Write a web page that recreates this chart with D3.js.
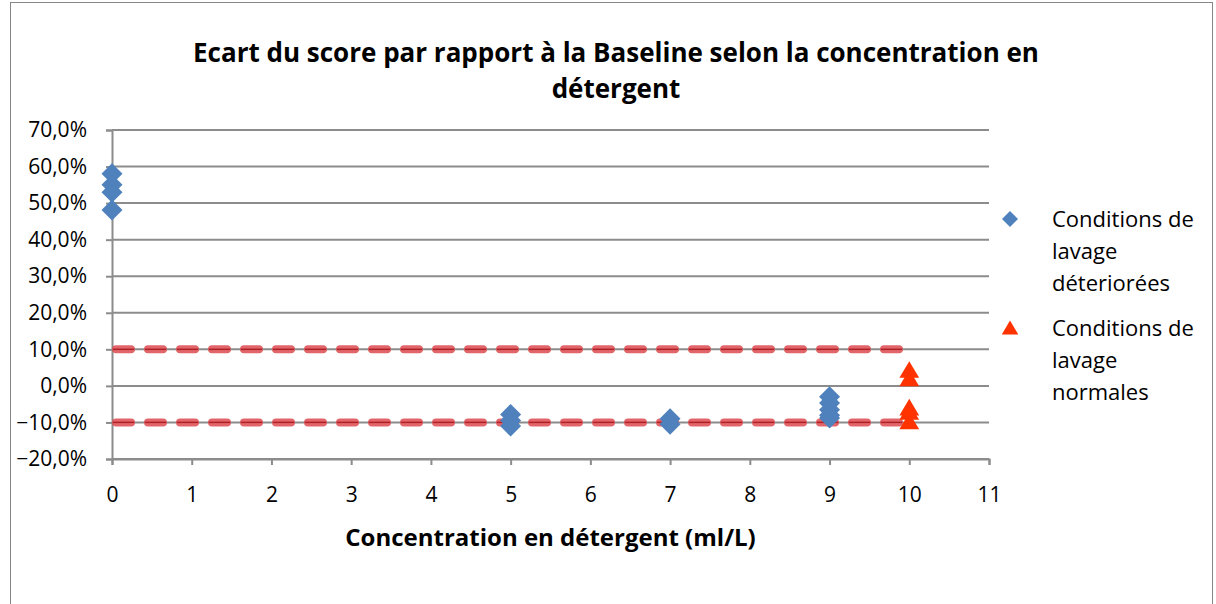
<!DOCTYPE html>
<html>
<head>
<meta charset="utf-8">
<script src="https://cdn.jsdelivr.net/npm/d3@7"></script>
<style>
  body { margin: 0; background: #fff; }
  svg text { font-family: "Open Sans", sans-serif; fill: #000; }
</style>
</head>
<body>
<script>
// chart data
let titleLines = ["Ecart du score par rapport à la Baseline selon la concentration en", "détergent"];
let xTitle = "Concentration en détergent (ml/L)";
let xTicks = [0, 1, 2, 3, 4, 5, 6, 7, 8, 9, 10, 11];
let yTicks = [-0.2, -0.1, 0, 0.1, 0.2, 0.3, 0.4, 0.5, 0.6, 0.7];

// "Conditions de lavage déteriorées"
let degradedX = [0, 0, 0, 0, 5, 5, 5, 7, 7, 9, 9, 9, 9, 9];
let degradedY = [0.58, 0.55, 0.53, 0.481, -0.078, -0.095, -0.11, -0.09, -0.105, -0.03, -0.047, -0.065, -0.08, -0.088];

// "Conditions de lavage normales"
let normalX = [10, 10, 10, 10, 10];
let normalY = [0.043, 0.02, -0.06, -0.072, -0.098];

// thresholds at +/-10 %
let limitX = [0, 10];
let upperLimit = [0.1, 0.1];
let lowerLimit = [-0.1, -0.1];

let legendLabels = [["Conditions de", "lavage", "déteriorées"],
                    ["Conditions de", "lavage", "normales"]];

window.onload = function() {
    main();
};

function main() {
    let w = 1216, h = 604;
    let plot = {left: 112, right: 989, top: 130, bottom: 459};

    let svg = d3.select("body")
                .append("svg")
                .attr("width", w)
                .attr("height", h);

    // chart frame
    svg.append("rect")
       .attr("x", 10.5).attr("y", 2.5)
       .attr("width", 1202).attr("height", 640)
       .attr("fill", "none")
       .attr("stroke", "#868686")
       .attr("stroke-width", 1);

    let x = d3.scaleLinear().domain([0, 11]).range([plot.left, plot.right]);
    let y = d3.scaleLinear().domain([-0.2, 0.7]).range([plot.bottom, plot.top]);

    // title
    svg.append("text")
       .attr("x", 616)
       .attr("y", 62)
       .attr("text-anchor", "middle")
       .style("font-weight", "bold")
       .style("font-size", "26px")
       .selectAll("tspan")
       .data(titleLines)
       .enter()
       .append("tspan")
       .attr("x", 616)
       .attr("dy", function(d, i) { return i === 0 ? 0 : 36; })
       .text(function(d) { return d; });

    // horizontal gridlines
    svg.append("g")
       .selectAll("line")
       .data(yTicks)
       .enter()
       .append("line")
       .attr("x1", plot.left)
       .attr("x2", plot.right)
       .attr("y1", function(d) { return y(d); })
       .attr("y2", function(d) { return y(d); })
       .attr("stroke", "#8c8c8c")
       .attr("stroke-width", 2);

    // y axis
    let fmt = function(d) { return d3.format(".1f")(d * 100).replace(".", ",") + "%"; };
    let yAxis = svg.append("g")
       .attr("transform", "translate(" + plot.left + ",0)")
       .call(d3.axisLeft(y).tickValues(yTicks).tickFormat(fmt).tickSize(6).tickPadding(19));
    yAxis.select(".domain").attr("stroke", "#8c8c8c").attr("stroke-width", 2);
    yAxis.selectAll(".tick line").attr("stroke", "#8c8c8c").attr("stroke-width", 2);
    yAxis.selectAll(".tick text")
         .style("font-size", "21px")
         .style("font-family", "'Open Sans', sans-serif")
         .attr("fill", "#000");

    // x axis
    let xAxis = svg.append("g")
       .attr("transform", "translate(0," + plot.bottom + ")")
       .call(d3.axisBottom(x).tickValues(xTicks).tickSize(6).tickPadding(22));
    xAxis.select(".domain").attr("stroke", "#8c8c8c").attr("stroke-width", 2);
    xAxis.selectAll(".tick line").attr("stroke", "#8c8c8c").attr("stroke-width", 2);
    xAxis.selectAll(".tick text")
         .style("font-size", "21px")
         .style("font-family", "'Open Sans', sans-serif")
         .attr("fill", "#000");

    // x axis title
    svg.append("text")
       .attr("x", x(5.5))
       .attr("y", 546)
       .attr("text-anchor", "middle")
       .style("font-weight", "bold")
       .style("font-size", "24px")
       .text(xTitle);

    // threshold lines
    let line = d3.line()
                 .x(function(d) { return x(d[0]); })
                 .y(function(d) { return y(d[1]); });
    [upperLimit, lowerLimit].forEach(function(vals) {
        let pts = d3.zip(limitX, vals);
        svg.append("path")
           .attr("d", line(pts))
           .attr("fill", "none")
           .attr("stroke", "#dd4a50")
           .attr("stroke-opacity", 0.85)
           .attr("stroke-width", 8)
           .attr("stroke-linecap", "round")
           .attr("stroke-dasharray", "15 17")
           .attr("stroke-dashoffset", -4);
        svg.append("path")
           .attr("d", line(pts))
           .attr("fill", "none")
           .attr("stroke", "#b01e26")
           .attr("stroke-width", 1.2)
           .attr("stroke-dasharray", "21 11")
           .attr("stroke-dashoffset", -1);
    });

    // markers
    let diamond = function(s) {
        return "M0," + (-s) + "L" + s + ",0L0," + s + "L" + (-s) + ",0Z";
    };
    let triangle = function(s) {
        return "M0," + (-s) + "L" + (s * 1.1) + "," + (s * 0.85) + "L" + (-s * 1.1) + "," + (s * 0.85) + "Z";
    };

    svg.append("g")
       .selectAll("path")
       .data(d3.zip(degradedX, degradedY))
       .enter()
       .append("path")
       .attr("d", diamond(10.5))
       .attr("transform", function(d) { return "translate(" + x(d[0]) + "," + y(d[1]) + ")"; })
       .attr("fill", "#4f81bd");

    svg.append("g")
       .selectAll("path")
       .data(d3.zip(normalX, normalY))
       .enter()
       .append("path")
       .attr("d", triangle(9))
       .attr("transform", function(d) { return "translate(" + x(d[0]) + "," + y(d[1]) + ")"; })
       .attr("fill", "#ff3300");

    // legend
    let legend = svg.append("g");
    let markers = [diamond(8), triangle(7.5)];
    let colors = ["#4f81bd", "#ff3300"];
    let legendTop = [219, 328];
    legendLabels.forEach(function(lines, i) {
        legend.append("path")
              .attr("d", markers[i])
              .attr("transform", "translate(1010," + legendTop[i] + ")")
              .attr("fill", colors[i]);
        legend.append("text")
              .attr("y", legendTop[i] + 8)
              .style("font-size", "22px")
              .selectAll("tspan")
              .data(lines)
              .enter()
              .append("tspan")
              .attr("x", 1052)
              .attr("dy", function(d, j) { return j === 0 ? 0 : 32; })
              .text(function(d) { return d; });
    });
}
</script>
</body>
</html>
